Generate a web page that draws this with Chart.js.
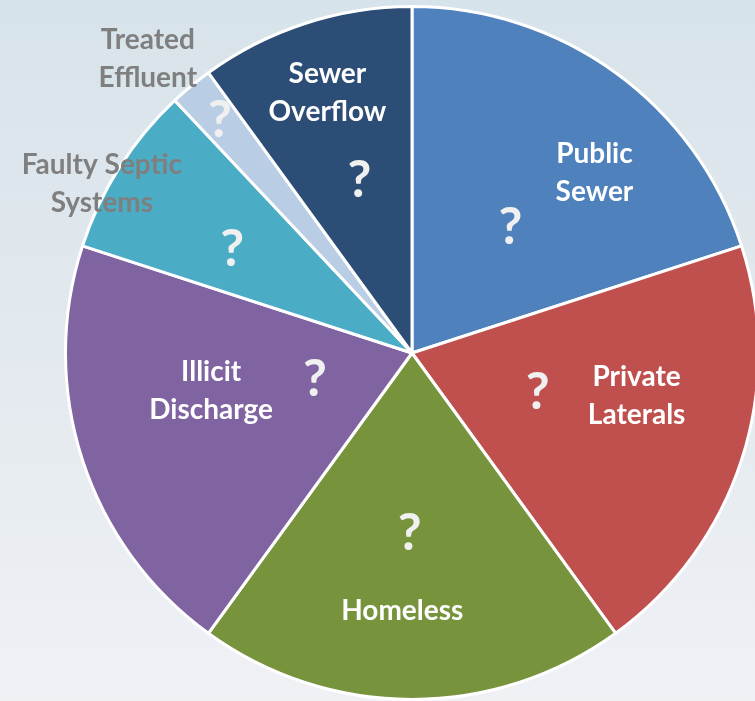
<!DOCTYPE html>
<html>
<head>
<meta charset="utf-8">
<script src="https://cdn.jsdelivr.net/npm/chart.js@4"></script>
<style>
  html, body { margin: 0; padding: 0; }
  body {
    width: 755px; height: 701px; overflow: hidden; position: relative;
    background: linear-gradient(to bottom, #d7e3ea 0%, #e4eaef 55%, #eff1f5 100%);
  }
  #wrap { position: absolute; left: 0; top: -7px; width: 824px; height: 720px; }
</style>
</head>
<body>
<div id="wrap"><canvas id="pie"></canvas></div>
<script>
// Data
const categories = ['Public Sewer', 'Private Laterals', 'Homeless', 'Illicit Discharge',
                    'Faulty Septic Systems', 'Treated Effluent', 'Sewer Overflow'];
const shares = [20, 20, 20, 20, 8, 2, 10];
const valueLabels = ['?', '?', '?', '?', '?', '?', '?'];
const nameLines = [['Public', 'Sewer'], ['Private', 'Laterals'], ['Homeless'], ['Illicit', 'Discharge'],
                   ['Faulty Septic', 'Systems'], ['Treated', 'Effluent'], ['Sewer', 'Overflow']];
const colors = ['#4f81bd', '#c0504d', '#77933c', '#8064a2', '#4bacc6', '#b9cde5', '#2c4d75'];

// label placement: [fraction along slice angle, fraction of radius]
const namePos = [[0.63, 0.74], [0.40, 0.66], [0.53, 0.745], [0.60, 0.59], [0.37, 1.02], [0.17, 1.14], [0.50, 0.79]];
const qPos = [[0.53, 0.46], [0.49, 0.38], [0.51, 0.52], [0.54, 0.29], [0.42, 0.60], [0.50, 0.87], [0.53, 0.52]];
const outside = [false, false, false, false, true, true, false];

const sliceLabels = {
    id: 'sliceLabels',
    afterDatasetsDraw(chart) {
        const ctx = chart.ctx;
        const arcs = chart.getDatasetMeta(0).data;
        ctx.save();
        ctx.textAlign = 'center';
        ctx.textBaseline = 'middle';
        arcs.forEach((arc, i) => {
            const p = arc.getProps(['x', 'y', 'startAngle', 'endAngle', 'outerRadius'], true);
            const at = (pos) => {
                const a = p.startAngle + (p.endAngle - p.startAngle) * pos[0];
                const r = p.outerRadius * pos[1];
                return [p.x + Math.cos(a) * r, p.y + Math.sin(a) * r];
            };
            // question mark
            const [qx, qy] = at(qPos[i]);
            ctx.font = 'bold 52px Lato';
            ctx.fillStyle = '#f0f0f0';
            ctx.fillText(valueLabels[i], qx, qy);
            // category name
            const [nx, ny] = at(namePos[i]);
            ctx.font = 'bold 28px Lato';
            ctx.fillStyle = outside[i] ? '#7f7f7f' : '#ffffff';
            const lines = nameLines[i];
            const lh = 38;
            lines.forEach((ln, k) => {
                ctx.fillText(ln, nx, ny + (k - (lines.length - 1) / 2) * lh);
            });
        });
        ctx.restore();
    }
};

new Chart(document.getElementById('pie'), {
    type: 'pie',
    data: {
        labels: categories,
        datasets: [{
            data: shares,
            backgroundColor: colors,
            borderColor: '#ffffff',
            borderWidth: 3
        }]
    },
    options: {
        responsive: true,
        maintainAspectRatio: false,
        animation: false,
        layout: { padding: 12 },
        plugins: {
            legend: { display: false },
            tooltip: { enabled: false }
        }
    },
    plugins: [sliceLabels]
});
</script>
</body>
</html>
